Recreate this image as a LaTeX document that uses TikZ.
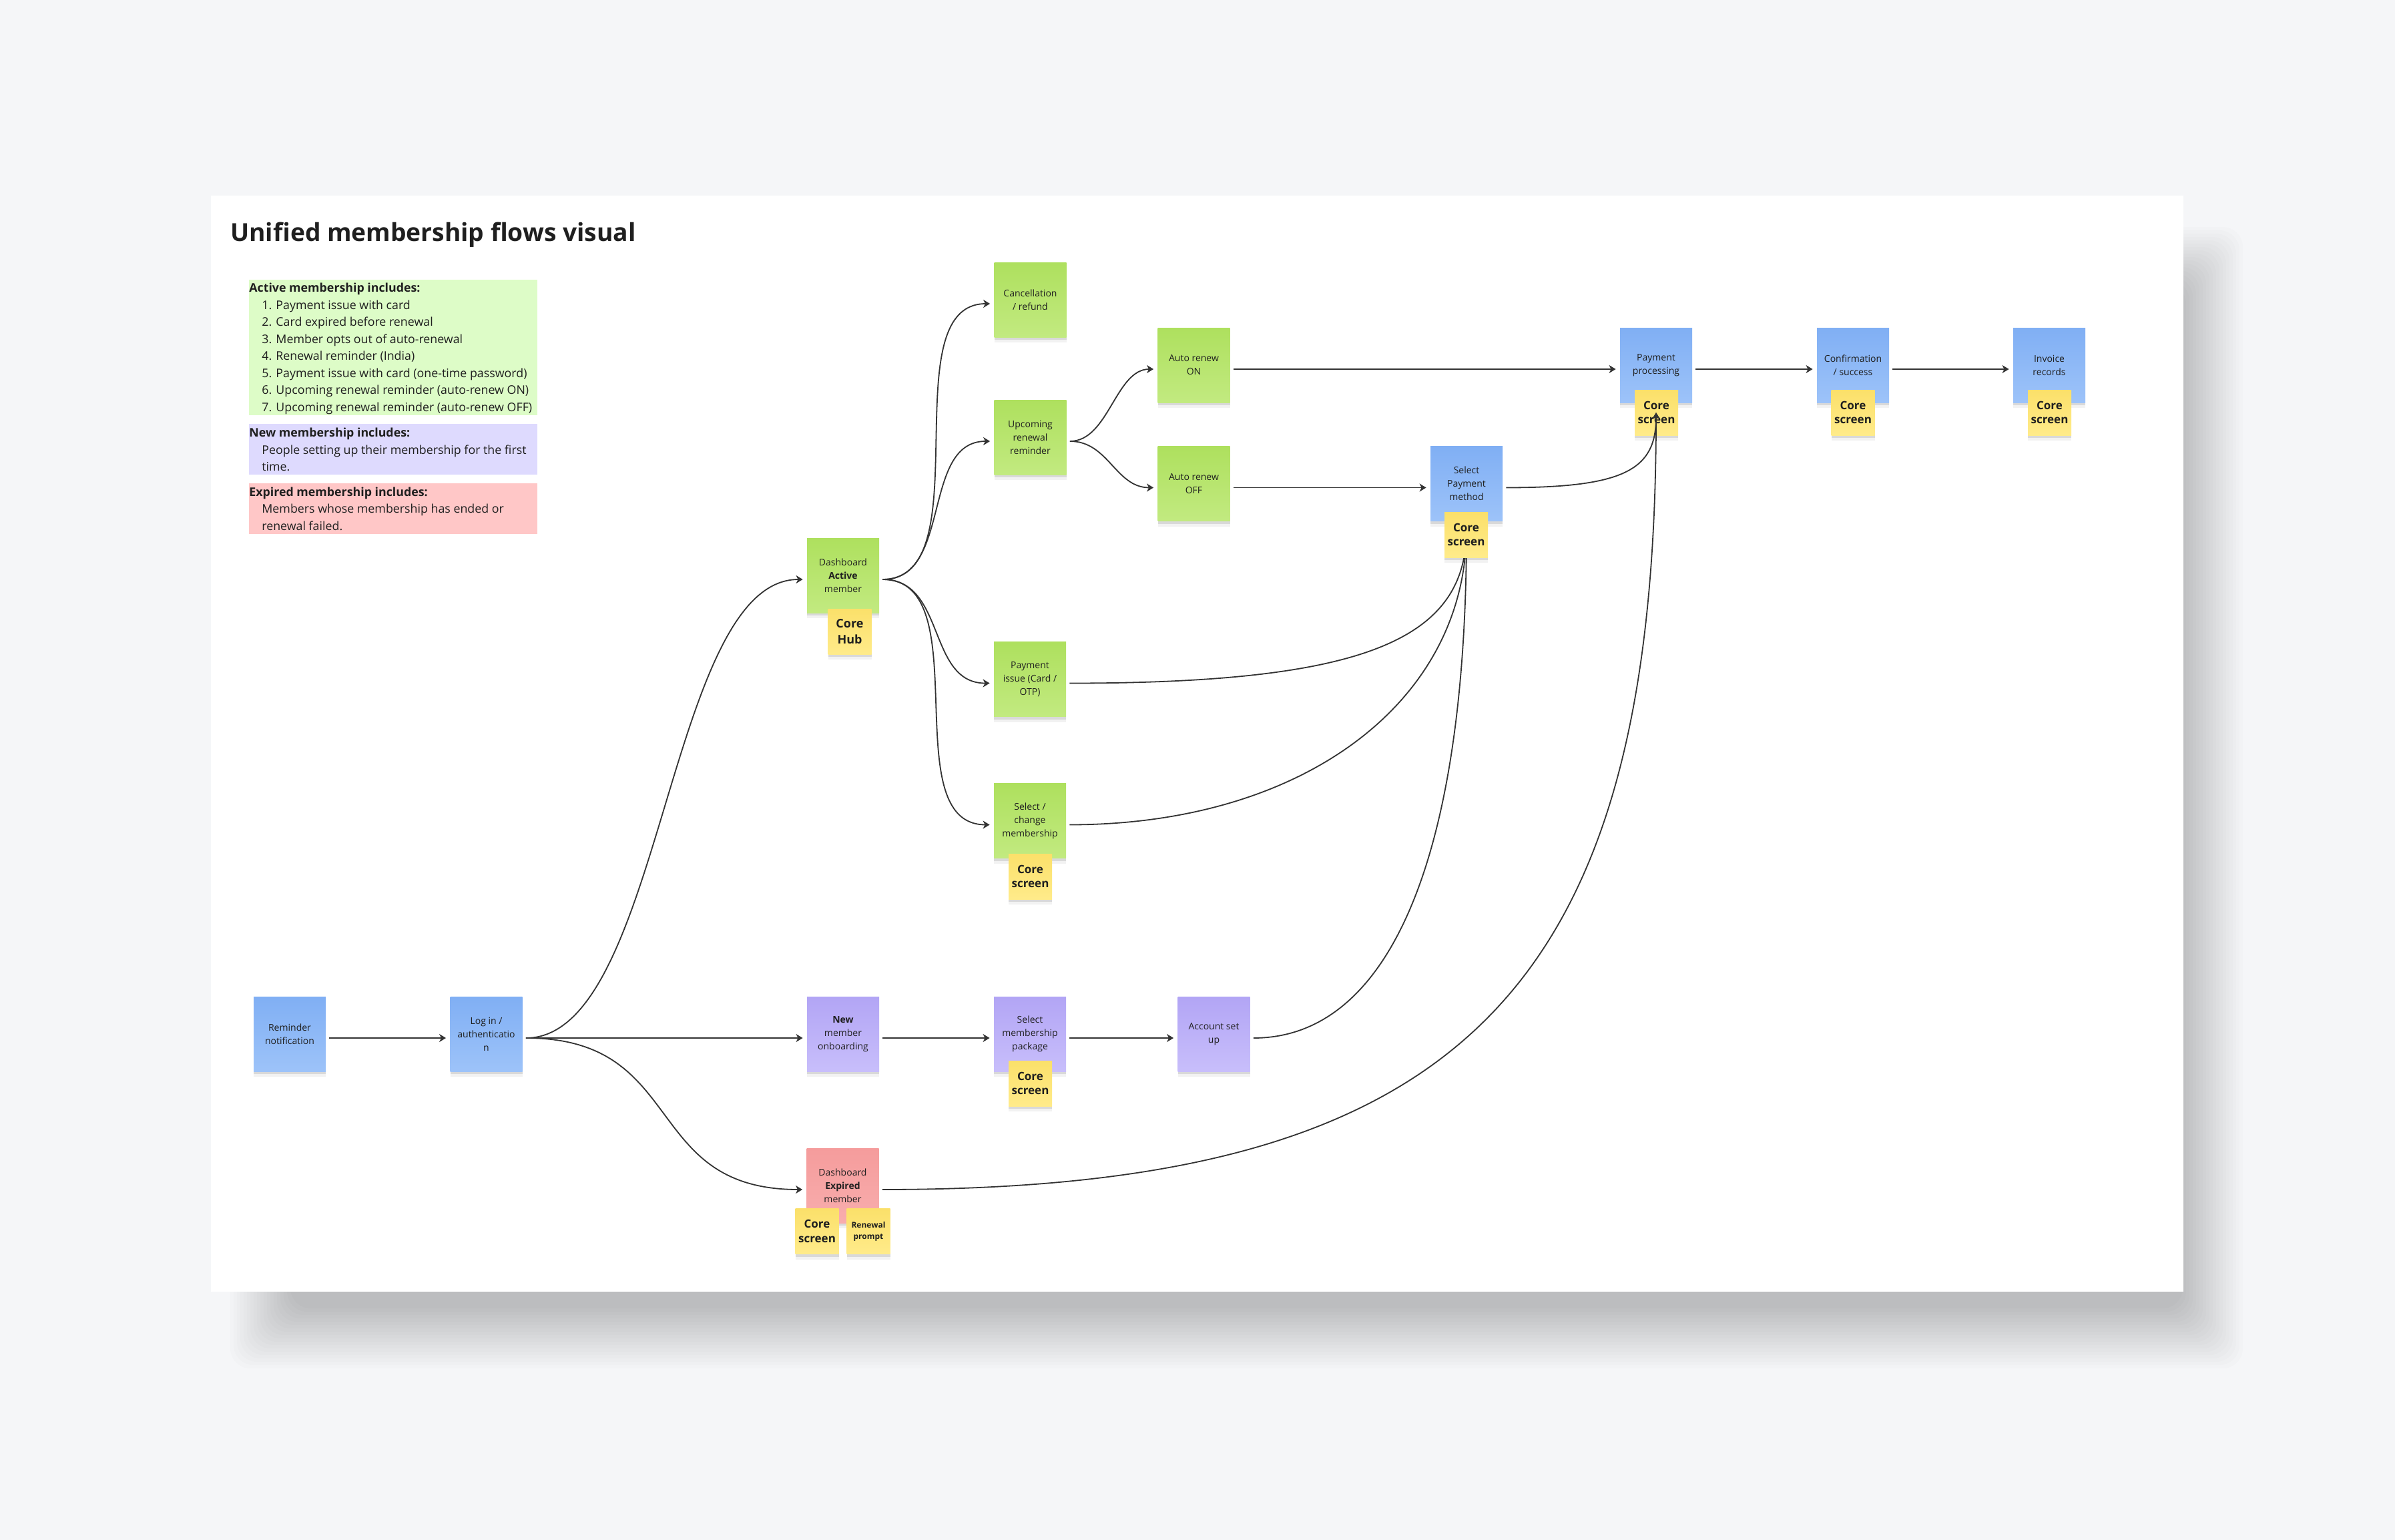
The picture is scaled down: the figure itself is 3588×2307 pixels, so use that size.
\documentclass[tikz,border=0pt]{standalone}
\usepackage{fontspec}
\setmainfont{Open Sans}
\usetikzlibrary{arrows.meta,shadows}
\definecolor{bg}{HTML}{F5F6F8}
\definecolor{txt}{HTML}{1F1F1F}
\definecolor{lc}{HTML}{333333}
\definecolor{gtop}{HTML}{AEE05E}
\definecolor{gbot}{HTML}{C2EA80}
\definecolor{btop}{HTML}{80AFF4}
\definecolor{bbot}{HTML}{9DC3F9}
\definecolor{ptop}{HTML}{B2A5F5}
\definecolor{pbot}{HTML}{C8BEFB}
\definecolor{rtop}{HTML}{F59C9C}
\definecolor{rbot}{HTML}{F8ADAD}
\definecolor{ytop}{HTML}{FBE06A}
\definecolor{ybot}{HTML}{FFEB8A}
\definecolor{lgreen}{HTML}{DDFCC7}
\definecolor{lpurple}{HTML}{DEDAFE}
\definecolor{lred}{HTML}{FFC7C7}
\newcommand{\mystfont}{\fontsize{7pt}{10pt}\selectfont}
\newcommand{\mycorefont}{\fontsize{8.5pt}{10.8pt}\selectfont\bfseries}
\newcommand{\myhubfont}{\fontsize{9pt}{11.8pt}\selectfont\bfseries}
\newcommand{\myrpfont}{\fontsize{6pt}{8.5pt}\selectfont\bfseries}
\newcommand{\mylegfont}{\fontsize{8.9pt}{12.85pt}\selectfont}
\newcommand{\mytitfont}{\fontsize{18.6pt}{21pt}\selectfont\bfseries}
\tikzset{
  stsh/.style={general shadow={shadow yshift=-2pt, opacity=0.10, fill=black},
               general shadow={shadow yshift=-4pt, opacity=0.05, fill=black}},
  sticky/.style={rectangle, minimum width=54pt, minimum height=56pt, inner sep=0pt,
                 align=center, font=\mystfont, text=txt, stsh},
  gst/.style={sticky, top color=gtop, bottom color=gbot},
  bst/.style={sticky, top color=btop, bottom color=bbot},
  pst/.style={sticky, top color=ptop, bottom color=pbot},
  rst/.style={sticky, top color=rtop, bottom color=rbot},
  core/.style={rectangle, minimum width=32.5pt, minimum height=34pt, inner sep=0pt,
               align=center, font=\mycorefont, text=txt, top color=ytop, bottom color=ybot, stsh},
  legbox/.style={rectangle, inner sep=0pt, anchor=north west},
  legtxt/.style={anchor=base west, inner sep=0pt, font=\mylegfont, text=txt},
  conn/.style={draw=lc, line width=0.9pt, shorten >=3pt, shorten <=2.5pt,
               -{Stealth[length=5pt,width=6pt,inset=1.5pt]}},
}
\begin{document}
\begin{tikzpicture}[x=0.5pt,y=-0.5pt]
\fill[bg] (0,0) rectangle (3588,2307);
\useasboundingbox (0,0) rectangle (3588,2307);
% board shadow
\foreach \e in {-45,-40,...,45} {
  \fill[black,opacity=0.012,rounded corners=15pt] ({390-(\e)},{385-(\e)}) rectangle ({3315+\e},{2005+\e});
}
\fill[white] (316,293) rectangle (3271,1935);

% title
\node[anchor=base west, inner sep=0pt, font=\mytitfont, text=txt] (title) at (345,361) {Unified membership flows visual};

% legend
\node[legbox, fill=lgreen, minimum width=216pt, minimum height=101.5pt] (lg1) at (373,419) {};
\node[legbox, fill=lpurple, minimum width=216pt, minimum height=38pt] (lg2) at (373,635) {};
\node[legbox, fill=lred, minimum width=216pt, minimum height=38pt] (lg3) at (373,724) {};
\node[legtxt] (l1h) at (373,437.7) {\bfseries Active membership includes:};
\node[legtxt] (l11) at (392,463.3) {1. Payment issue with card};
\node[legtxt] (l12) at (392,488.8) {2. Card expired before renewal};
\node[legtxt] (l13) at (392,514.2) {3. Member opts out of auto-renewal};
\node[legtxt] (l14) at (392,539.7) {4. Renewal reminder (India)};
\node[legtxt] (l15) at (392,565.1) {5. Payment issue with card (one-time password)};
\node[legtxt] (l16) at (392,590.6) {6. Upcoming renewal reminder (auto-renew ON)};
\node[legtxt] (l17) at (392,616) {7. Upcoming renewal reminder (auto-renew OFF)};
\node[legtxt] (l2h) at (373,654) {\bfseries New membership includes:};
\node[legtxt] (l21) at (392,680) {People setting up their membership for the first};
\node[legtxt] (l22) at (392,705) {time.};
\node[legtxt] (l3h) at (373,743.3) {\bfseries Expired membership includes:};
\node[legtxt] (l31) at (392,768.3) {Members whose membership has ended or};
\node[legtxt] (l32) at (392,794) {renewal failed.};

% main stickies
\node[bst] (remind) at (434,1549) {Reminder\\notification};
\node[bst] (login) at (728.5,1549) {Log in /\\authenticatio\\n};
\node[gst] (dashA) at (1263,862) {Dashboard\\\textbf{Active}\\member};
\node[gst] (cancel) at (1543.5,449) {Cancellation\\/ refund};
\node[gst] (upcoming) at (1543.5,655) {Upcoming\\renewal\\reminder};
\node[gst] (payissue) at (1543,1017.5) {Payment\\issue (Card /\\OTP)};
\node[gst] (selchange) at (1543,1229.5) {Select /\\change\\membership};
\node[gst] (autoOn) at (1788.5,547) {Auto renew\\ON};
\node[gst] (autoOff) at (1788.5,724.5) {Auto renew\\OFF};
\node[bst] (selpay) at (2197,724.5) {Select\\Payment\\method};
\node[bst] (payproc) at (2481,547) {Payment\\processing};
\node[bst] (confirm) at (2776,547) {Confirmation\\/ success};
\node[bst] (invoice) at (3070,547) {Invoice\\records};
\node[pst] (newmem) at (1263,1549) {\textbf{New}\\member\\onboarding};
\node[pst] (selpkg) at (1543,1549) {Select\\membership\\package};
\node[pst] (account) at (1818.5,1549) {Account set\\up};
\node[rst] (expired) at (1262.5,1776) {Dashboard\\\textbf{Expired}\\member};
\coordinate (ppin) at (2481,618);

% connectors (under the small stickies)
\draw[conn] ([yshift=-3pt]remind.east) -- ([yshift=-3pt]login.west);
\draw[conn] ([yshift=-3pt]login.east) -- ([yshift=-3pt]newmem.west);
\draw[conn] ([yshift=-3pt]login.east) .. controls +(210,0) and +(-210,0) .. ([yshift=-3pt]dashA.west);
\draw[conn] ([yshift=-3pt]login.east) .. controls +(248,0) and +(-248,0) .. ([yshift=-3pt]expired.west);
\draw[conn] ([yshift=-3pt]newmem.east) -- ([yshift=-3pt]selpkg.west);
\draw[conn] ([yshift=-3pt]selpkg.east) -- ([yshift=-3pt]account.west);
\draw[conn] ([yshift=-3pt]dashA.east) .. controls +(155,0) and +(-155,0) .. ([yshift=-3pt]cancel.west);
\draw[conn] ([yshift=-3pt]dashA.east) .. controls +(110,0) and +(-110,0) .. ([yshift=-3pt]upcoming.west);
\draw[conn] ([yshift=-3pt]dashA.east) .. controls +(100,0) and +(-100,0) .. ([yshift=-3pt]payissue.west);
\draw[conn] ([yshift=-3pt]dashA.east) .. controls +(150,0) and +(-150,0) .. ([yshift=-3pt]selchange.west);
\draw[conn] ([yshift=-3pt]upcoming.east) .. controls +(63,0) and +(-63,0) .. ([yshift=-3pt]autoOn.west);
\draw[conn] ([yshift=-3pt]upcoming.east) .. controls +(63,0) and +(-63,0) .. ([yshift=-3pt]autoOff.west);
\draw[conn] ([yshift=-3pt]autoOn.east) -- ([yshift=-3pt]payproc.west);
\draw[conn] ([yshift=-3pt]autoOff.east) -- ([yshift=-3pt]selpay.west);
\draw[conn] ([yshift=-3pt]payproc.east) -- ([yshift=-3pt]confirm.west);
\draw[conn] ([yshift=-3pt]confirm.east) -- ([yshift=-3pt]invoice.west);
\draw[conn] ([yshift=-3pt]payissue.east) .. controls +(446,0) and +(0,178) .. (selpay.south);
\draw[conn] ([yshift=-3pt]selchange.east) .. controls +(357,0) and +(0,269) .. (selpay.south);
\draw[conn] ([yshift=-3pt]account.east) .. controls +(210,0) and +(0,500) .. (selpay.south);

% small stickies
\node[core, font=\myhubfont] (coreHub) at (1273,946) {Core\\Hub};
\node[core] (cs1) at (1543.5,1313) {Core\\screen};
\node[core] (cs2) at (2196.5,801) {Core\\screen};
\node[core] (cs3) at (2481.5,618) {Core\\screen};
\node[core] (cs4) at (2776,618) {Core\\screen};
\node[core] (cs5) at (3070.5,618) {Core\\screen};
\node[core] (cs6) at (1543.5,1623) {Core\\screen};
\node[core] (cs7) at (1224,1844.5) {Core\\screen};
\node[core, font=\myrpfont] (rp) at (1301,1844.5) {Renewal\\prompt};

% connectors drawn over the small stickies
\draw[conn, shorten >=0pt] ([yshift=-3pt]selpay.east) .. controls +(184,0) and +(0,85) .. (ppin);
\draw[conn, shorten >=0pt] ([yshift=-3pt]expired.east) .. controls +(873,0) and +(0,868) .. (ppin);
\end{tikzpicture}
\end{document}
